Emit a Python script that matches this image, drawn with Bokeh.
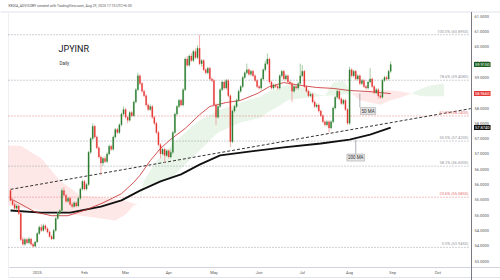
from bokeh.plotting import figure
from bokeh.models import ColumnDataSource, Range1d, Label
from bokeh.embed import file_html
from bokeh.resources import INLINE
import numpy as np

# ---------------- data ----------------
opens = [
 55.80, 55.48, 55.35, 55.22, 55.30, 55.05, 54.20, 54.05, 54.20, 54.10,
 54.22, 54.05, 53.98, 54.12, 54.40, 54.60, 54.50, 54.65, 54.55, 54.45,
 54.30, 54.22, 54.50, 54.89, 55.05, 55.15, 55.80, 55.65, 55.45, 55.55,
 55.35, 55.28, 55.40, 55.30, 55.55, 55.85, 56.10, 55.85, 56.00, 57.05,
 57.50, 57.90, 57.55, 57.20, 56.90, 56.70, 56.85, 56.75, 57.00, 57.25,
 57.15, 57.55, 57.80, 57.70, 57.95, 58.30, 58.45, 58.20, 58.10, 58.35,
 58.25, 58.70, 59.10, 59.55, 59.30, 59.05, 58.90, 58.60, 58.45, 58.55,
 58.20, 58.00, 57.70, 57.30, 57.00, 57.15, 56.95, 57.10, 56.90, 57.05,
 57.70, 58.30, 58.55, 58.75, 58.60, 59.10, 60.10, 59.90, 60.20, 60.05,
 60.35, 60.15, 60.45, 59.95, 60.05, 59.75, 59.65, 59.80, 59.45, 59.40,
 58.60, 58.20, 58.55, 59.10, 59.35, 59.15, 59.40, 58.90, 57.40, 58.40,
 58.55, 58.75, 59.05, 59.20, 59.50, 59.65, 59.75, 59.60, 59.70, 59.55,
 59.40, 59.20, 59.15, 59.45, 59.75, 59.95, 60.10, 59.35, 59.15, 59.25,
 59.20, 59.15, 59.55, 59.70, 59.45, 59.55, 59.35, 59.30, 59.05, 59.20,
 59.15, 59.30, 59.55, 59.70, 59.20, 59.05, 58.90, 58.95, 58.70, 58.55,
 58.60, 58.40, 58.25, 58.05, 57.95, 58.05, 57.85, 58.05, 58.50, 58.85,
 59.05, 58.80, 58.65, 58.75, 58.45, 58.00, 59.75, 59.55, 59.70, 59.45,
 59.55, 59.30, 59.40, 59.20, 59.15, 59.35, 59.45, 59.20, 59.00, 59.10,
 58.90, 58.85, 59.40, 59.50, 59.45, 59.70]
highs = [
 55.87, 55.55, 55.42, 55.36, 55.34, 55.10, 54.28, 54.26, 54.25, 54.28,
 54.26, 54.10, 54.16, 54.44, 54.66, 54.70, 54.72, 54.70, 54.60, 54.50,
 54.36, 54.55, 54.93, 55.10, 55.20, 55.88, 55.92, 55.70, 55.60, 55.60,
 55.42, 55.45, 55.44, 55.60, 55.90, 56.15, 56.15, 56.05, 57.10, 57.55,
 58.00, 57.95, 57.60, 57.25, 56.95, 56.90, 56.92, 57.05, 57.30, 57.30,
 57.60, 57.85, 57.85, 58.00, 58.35, 58.55, 58.50, 58.25, 58.40, 58.40,
 58.75, 59.15, 59.65, 59.60, 59.35, 59.10, 58.95, 58.65, 58.62, 58.60,
 58.25, 58.05, 57.75, 57.35, 57.20, 57.20, 57.15, 57.15, 57.15, 57.75,
 58.35, 58.60, 58.80, 58.80, 59.15, 60.15, 60.20, 60.25, 60.30, 60.40,
 60.45, 60.55, 60.895, 60.10, 60.10, 59.80, 59.85, 59.85, 59.50, 59.45,
 58.65, 58.60, 59.15, 59.40, 59.40, 59.45, 59.45, 58.95, 58.45, 58.60,
 58.80, 59.10, 59.25, 59.55, 59.70, 59.95, 59.80, 59.75, 59.75, 59.60,
 59.45, 59.25, 59.50, 59.80, 60.05, 60.28, 60.15, 59.40, 59.30, 59.30,
 59.25, 59.60, 59.75, 59.75, 59.60, 59.60, 59.40, 59.35, 59.25, 59.25,
 59.35, 59.95, 59.90, 59.75, 59.25, 59.10, 59.00, 59.00, 58.75, 58.65,
 58.65, 58.45, 58.30, 58.10, 58.10, 58.10, 58.10, 58.55, 58.90, 59.10,
 59.10, 58.85, 58.80, 58.80, 58.50, 59.85, 59.80, 59.75, 59.75, 59.60,
 59.60, 59.45, 59.45, 59.25, 59.40, 59.80, 59.50, 59.25, 59.15, 59.15,
 58.95, 59.45, 59.55, 59.55, 59.75, 60.02]
lows = [
 55.45, 55.30, 55.18, 55.15, 55.00, 54.15, 54.00, 54.00, 54.05, 54.05,
 54.00, 53.945, 53.96, 54.08, 54.35, 54.45, 54.46, 54.50, 54.40, 54.26,
 54.18, 54.20, 54.46, 54.85, 54.98, 55.10, 55.60, 55.40, 55.40, 55.30,
 55.22, 55.24, 55.25, 55.26, 55.50, 55.80, 55.80, 55.80, 55.95, 57.00,
 57.45, 57.50, 57.15, 56.85, 56.30, 56.60, 56.70, 56.70, 56.95, 57.10,
 57.10, 57.50, 57.65, 57.65, 57.90, 58.25, 58.15, 58.00, 58.05, 58.20,
 58.20, 58.65, 59.05, 59.25, 59.00, 58.85, 58.55, 58.40, 58.40, 58.15,
 57.95, 57.65, 57.25, 56.85, 56.95, 56.70, 56.90, 56.85, 56.85, 57.00,
 57.65, 58.25, 58.50, 58.55, 58.55, 59.05, 59.85, 59.85, 60.00, 60.00,
 60.10, 60.10, 59.90, 59.85, 59.70, 59.60, 59.60, 59.40, 59.35, 58.55,
 57.95, 58.15, 58.50, 59.05, 59.10, 59.10, 58.85, 57.22, 57.35, 58.35,
 58.50, 58.70, 59.00, 59.15, 59.45, 59.60, 59.55, 59.55, 59.50, 59.35,
 59.15, 59.10, 59.10, 59.40, 59.70, 59.90, 59.30, 59.10, 59.10, 59.15,
 59.10, 59.10, 59.50, 59.40, 59.40, 59.30, 59.25, 58.70, 59.00, 59.10,
 59.10, 59.25, 59.50, 59.15, 59.00, 58.85, 58.85, 58.65, 58.50, 58.50,
 58.35, 58.20, 58.00, 57.90, 57.90, 57.70, 57.80, 58.00, 58.45, 58.80,
 58.75, 58.60, 58.60, 58.40, 57.95, 57.95, 59.50, 59.50, 59.40, 59.40,
 59.25, 59.25, 59.15, 59.10, 59.10, 59.30, 59.15, 58.95, 58.95, 58.80,
 58.80, 58.80, 59.35, 59.40, 59.40, 59.65]
closes = [
 55.48, 55.35, 55.22, 55.30, 55.05, 54.20, 54.05, 54.20, 54.10, 54.22,
 54.05, 53.98, 54.12, 54.40, 54.60, 54.50, 54.65, 54.55, 54.45, 54.30,
 54.22, 54.50, 54.89, 55.05, 55.15, 55.80, 55.65, 55.45, 55.55, 55.35,
 55.28, 55.40, 55.30, 55.55, 55.85, 56.10, 55.85, 56.00, 57.05, 57.50,
 57.90, 57.55, 57.20, 56.90, 56.70, 56.85, 56.75, 57.00, 57.25, 57.15,
 57.55, 57.80, 57.70, 57.95, 58.30, 58.45, 58.20, 58.10, 58.35, 58.25,
 58.70, 59.10, 59.55, 59.30, 59.05, 58.90, 58.60, 58.45, 58.55, 58.20,
 58.00, 57.70, 57.30, 57.00, 57.15, 56.95, 57.10, 56.90, 57.05, 57.70,
 58.30, 58.55, 58.75, 58.60, 59.10, 60.10, 59.90, 60.20, 60.05, 60.35,
 60.15, 60.45, 59.95, 60.05, 59.75, 59.65, 59.80, 59.45, 59.40, 58.60,
 58.20, 58.55, 59.10, 59.35, 59.15, 59.40, 58.90, 57.40, 58.40, 58.55,
 58.75, 59.05, 59.20, 59.50, 59.65, 59.75, 59.60, 59.70, 59.55, 59.40,
 59.20, 59.15, 59.45, 59.75, 59.95, 60.10, 59.35, 59.15, 59.25, 59.20,
 59.15, 59.55, 59.70, 59.45, 59.55, 59.35, 59.30, 59.05, 59.20, 59.15,
 59.30, 59.55, 59.70, 59.20, 59.05, 58.90, 58.95, 58.70, 58.55, 58.60,
 58.40, 58.25, 58.05, 57.95, 58.05, 57.85, 58.05, 58.50, 58.85, 59.05,
 58.80, 58.65, 58.75, 58.45, 58.00, 59.75, 59.55, 59.70, 59.45, 59.55,
 59.30, 59.40, 59.20, 59.15, 59.35, 59.45, 59.20, 59.00, 59.10, 58.90,
 58.85, 59.40, 59.50, 59.45, 59.70, 59.92]

# 50-day and 200-day moving averages (bar index, value)
ma50_bar = [0, 5, 12, 20, 28, 37, 45, 54, 60, 63, 68, 73, 78, 85, 92, 97,
            105, 112, 120, 126, 133, 141, 149, 157, 165, 174, 185]
ma50_val = [55.54, 55.36, 55.10, 54.98, 54.98, 55.18, 55.40, 55.70, 56.07, 56.30,
            56.78, 57.18, 57.48, 57.83, 58.28, 58.55, 58.68, 58.75, 58.97,
            59.20, 59.33, 59.24, 59.17, 59.14, 59.07, 59.04, 58.97]
ma200_bar = [0, 15, 29, 44, 54, 63, 73, 83, 92, 102, 117, 133, 151, 165, 175, 185]
ma200_val = [55.15, 55.08, 55.08, 55.28, 55.48, 55.80, 56.10, 56.33, 56.65, 56.95,
             57.08, 57.21, 57.34, 57.47, 57.63, 57.86]

# Ichimoku cloud (leading spans, projected 26 bars ahead)
cloud_bar = [-1, 5, 15, 24, 34, 44, 51, 56, 60, 62, 65, 71, 79, 86, 92, 101, 112,
             122, 125, 130, 135, 140, 145, 150, 153, 157, 162, 166, 170, 175, 180,
             185, 190, 195, 200, 205, 211]
span_a = [55.31, 55.25, 55.15, 55.05, 54.99, 54.89, 54.82, 55.02, 55.31, 55.35,
          56.13, 56.78, 57.34, 57.76, 58.09, 58.42, 58.68, 58.88, 59.01, 59.14,
          59.27, 59.24, 59.07, 58.94, 58.90, 59.33, 59.40, 58.97, 58.75, 58.68,
          58.61, 58.75, 58.84, 58.97, 59.14, 59.24, 59.30]
span_b = [57.27, 57.27, 56.85, 56.13, 55.64, 55.58, 55.51, 55.48, 55.38, 55.35,
          55.93, 56.07, 56.26, 56.72, 57.11, 57.70, 58.03, 58.19, 58.35, 58.54,
          58.75, 58.81, 58.84, 58.88, 58.90, 58.91, 58.94, 58.97, 59.01, 59.07,
          59.07, 59.07, 59.04, 58.97, 58.88, 58.88, 58.88]

# trend line (bar, price)
trend_bar = [0, 224]
trend_val = [55.84, 58.48]

# Fibonacci retracement levels
fib_price = [60.895, 59.408, 58.240, 57.420, 56.600, 55.585, 53.945]
fib_label = ["100.0% (60.8950)", "78.6% (59.4080)", "61.8% (58.2400)",
             "50.0% (57.4200)", "38.2% (56.6000)", "23.6% (55.5850)",
             "0.0% (53.9450)"]
fib_color = ["#9598a1", "#9598a1", "#e57373", "#9598a1", "#9598a1", "#e57373", "#9598a1"]

# axis ticks
month_ticks = [13, 36, 56, 77, 99, 121, 142, 165, 186, 208]
month_labels = ["2025", "Feb", "Mar", "Apr", "May", "Jun", "Jul", "Aug", "Sep", "Oct"]
price_ticks = [53.5, 54.0, 54.5, 55.0, 55.5, 56.0, 56.5, 57.0, 57.5, 58.0, 58.5,
               59.0, 59.5, 60.0, 60.5, 61.0, 61.5]

last_close_label = "59.9150"
ma50_last_label = "58.9660"
ma200_last_label = "57.8740"

# ---------------- scales ----------------
# the whole 500x280 canvas is the plotting frame; pane edges are drawn as lines
BPP = 1 / 2.055          # bars per pixel
PPP = 1 / 30.6           # price per pixel
X0 = -10 * BPP           # canvas left edge   (bar index)
X1 = X0 + 500 * BPP      # canvas right edge
YT = 61.0 + 31 * PPP     # canvas top edge    (price)
YB = YT - 280 * PPP      # canvas bottom edge

def bx(px):   # pixel column -> bar coordinate
    return X0 + px * BPP

def py(pix):  # pixel row -> price coordinate
    return YT - pix * PPP

FONT = "Roboto"
p = figure(width=500, height=280, output_backend="svg", toolbar_location=None,
           x_range=Range1d(X0, X1), y_range=Range1d(YB, YT),
           min_border=0, min_border_left=0, min_border_right=0,
           min_border_top=0, min_border_bottom=0)
p.background_fill_color = "white"
p.border_fill_color = "white"
p.outline_line_color = None
p.grid.visible = False
p.axis.visible = False

PANE_R = bx(471)      # price scale line
PANE_T = py(11.5)
PANE_B = py(267)

# pane edges
p.line([bx(0), bx(500)], [PANE_T, PANE_T], line_color="#e0e3eb", line_width=1)
p.line([bx(8), bx(500)], [PANE_B, PANE_B], line_color="#d1d4dc", line_width=1)
p.line([bx(8), bx(500)], [py(277), py(277)], line_color="#e0e3eb", line_width=1)
p.line([bx(8), bx(8)], [PANE_T, py(277)], line_color="#eef0f3", line_width=1)
p.line([PANE_R, PANE_R], [PANE_T, YB], line_color="#787b86", line_width=1)

# price scale labels
for t in price_ticks:
    p.add_layout(Label(x=bx(474), y=t, text="%.4f" % t, text_baseline="middle",
                       text_font_size="4px", text_color="#555", text_font=FONT))

# time scale labels
for t, lab in zip(month_ticks, month_labels):
    p.add_layout(Label(x=t, y=py(272), text=lab, text_align="center",
                       text_baseline="middle", text_font_size="4px",
                       text_color="#555", text_font=FONT))

# cloud
cb = np.array(cloud_bar, dtype=float)
sa = np.array(span_a)
sb = np.array(span_b)
top = np.maximum(sa, sb)
p.varea(x=cb, y1=sb, y2=top, fill_color="#4caf50", fill_alpha=0.13)
p.varea(x=cb, y1=sa, y2=top, fill_color="#f44336", fill_alpha=0.12)

# fib lines
for fp, fl, fc in zip(fib_price, fib_label, fib_color):
    p.line([bx(8), bx(468)], [fp, fp], line_color=fc, line_width=0.9, line_dash="1 2")
    p.add_layout(Label(x=bx(468), y=fp + 1 * PPP, text=fl, text_align="right",
                       text_baseline="bottom", text_font_size="4px", text_color=fc,
                       text_font=FONT))

# trend line
p.line(trend_bar, trend_val, line_color="#333", line_width=1, line_dash="3 2")

# moving averages
p.line(ma200_bar, ma200_val, line_color="#111", line_width=1.8)
p.line(ma50_bar, ma50_val, line_color="#c62828", line_width=0.8)

# candles
n = len(closes)
idx = list(range(n))
up = [c >= o for o, c in zip(opens, closes)]
src = ColumnDataSource(dict(
    x=idx, o=opens, h=highs, l=lows, c=closes,
    top=[max(o, c) for o, c in zip(opens, closes)],
    bot=[min(o, c) for o, c in zip(opens, closes)],
    body=["#2e7d32" if u else "#e53935" for u in up],
    wick=["#8fbf8f" if u else "#f29b9b" for u in up]))
p.segment(x0="x", y0="l", x1="x", y1="h", color="wick", line_width=0.8, source=src)
p.vbar(x="x", top="top", bottom="bot", width=0.62, fill_color="body",
       line_color="body", line_width=0.2, source=src)

# MA annotations
p.segment(x0=[170, 168], y0=[58.97, 57.47], x1=[170, 168], y1=[58.52, 57.00],
          line_color="#787b86", line_width=0.6)
p.add_layout(Label(x=174, y=58.40, text="50 MA", text_align="center", text_baseline="middle",
                   text_font_size="4.5px", text_color="#333", text_font=FONT,
                   background_fill_color="#e6e6e6", border_line_color="#999",
                   border_line_width=0.5, padding=1))
p.add_layout(Label(x=168, y=56.88, text="200 MA", text_align="center", text_baseline="middle",
                   text_font_size="4.5px", text_color="#333", text_font=FONT,
                   background_fill_color="#e6e6e6", border_line_color="#999",
                   border_line_width=0.5, padding=1))

# title texts
p.add_layout(Label(x=bx(58), y=py(48), text="JPYINR", text_baseline="middle",
                   text_font_size="9px", text_color="#131722", text_font=FONT))
p.add_layout(Label(x=bx(59), y=py(63), text="Daily", text_baseline="middle",
                   text_font_size="4.5px", text_color="#333", text_font=FONT))
p.add_layout(Label(x=bx(8), y=py(5.5),
                   text="KEDIA_ADVISORY created with TradingView.com, Aug 29, 2025 17:10 UTC+5:30",
                   text_baseline="middle", text_font_size="3.5px", text_color="#555",
                   text_font=FONT))

# price boxes on the price scale
for val, txt, col in [(closes[-1], last_close_label, "#1b5e20"),
                      (ma50_val[-1], ma50_last_label, "#e53935"),
                      (ma200_val[-1], ma200_last_label, "#111111")]:
    p.add_layout(Label(x=bx(473.5), y=val, text=txt, text_baseline="middle",
                       text_font_size="4px", text_color="white", text_font=FONT,
                       background_fill_color=col, padding=1))

open("out.html", "w").write(file_html(p, INLINE))
